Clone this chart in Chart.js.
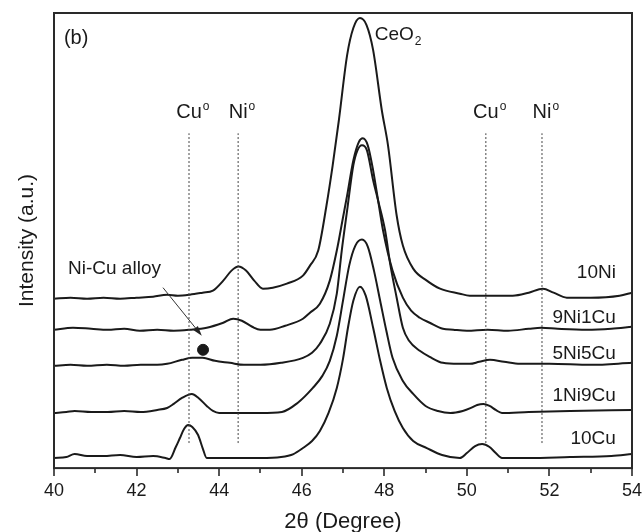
<!DOCTYPE html>
<html>
<head>
<meta charset="utf-8">
<script src="https://cdn.jsdelivr.net/npm/chart.js@4.4.1/dist/chart.umd.min.js"></script>
<style>
    html, body { margin: 0; padding: 0; background: #fff; }
    #wrap { width: 643px; height: 532px; }
</style>
</head>
<body>
<div id="wrap"><canvas id="xrd"></canvas></div>
<script>
// XRD patterns [2theta, intensity a.u.]
const ni10 = [
    [40.0, 169], [40.4, 170], [40.8, 169], [41.2, 170], [41.6, 169], [42.0, 170], [42.4, 171],
    [42.74, 173], [43.0, 172], [43.29, 173], [43.6, 175], [43.85, 177], [44.1, 187], [44.3, 197],
    [44.47, 201], [44.65, 197], [44.85, 187], [45.06, 179], [45.3, 180], [45.64, 184], [46.03, 192],
    [46.2, 202], [46.4, 217], [46.6, 262], [46.75, 302], [46.9, 347], [47.1, 412], [47.25, 439],
    [47.41, 449], [47.57, 442], [47.73, 417], [47.94, 357], [48.09, 322], [48.3, 252], [48.45, 222],
    [48.7, 199], [49.03, 187], [49.35, 179], [49.83, 174], [50.07, 172], [50.5, 172], [51.11, 172],
    [51.5, 175], [51.84, 179], [52.1, 175], [52.42, 170], [53.0, 170], [53.7, 172], [54.0, 175]
];
const ni9cu1 = [
    [40.0, 138], [40.46, 140], [40.9, 139], [41.3, 138], [41.7, 139], [42.08, 137], [42.5, 138],
    [42.9, 137], [43.29, 138], [43.7, 140], [44.1, 145], [44.34, 149], [44.55, 147], [44.8, 141],
    [45.0, 138], [45.23, 138], [45.6, 142], [46.03, 149], [46.2, 155], [46.44, 164], [46.68, 187],
    [46.85, 217], [47.0, 250], [47.1, 272], [47.25, 307], [47.38, 325], [47.48, 329], [47.6, 322],
    [47.73, 297], [47.85, 267], [47.97, 237], [48.2, 197], [48.45, 170], [48.65, 157], [48.86, 150],
    [49.1, 145], [49.42, 139], [49.67, 138], [50.0, 137], [50.5, 138], [51.0, 137], [51.5, 139],
    [51.8, 140], [52.2, 139], [52.9, 138], [53.5, 139], [54.0, 141]
];
const ni5cu5 = [
    [40.0, 102], [40.4, 103], [40.8, 102], [41.28, 103], [41.7, 102], [42.1, 103], [42.5, 103],
    [42.74, 104], [43.1, 108], [43.35, 110], [43.6, 110], [43.9, 107], [44.26, 105], [44.6, 103],
    [45.0, 103], [45.5, 105], [46.03, 110], [46.25, 115], [46.44, 124], [46.68, 144], [46.85, 174],
    [46.97, 217], [47.1, 257], [47.25, 302], [47.35, 317], [47.46, 322], [47.58, 317], [47.73, 287],
    [47.85, 267], [48.02, 237], [48.15, 202], [48.3, 170], [48.45, 140], [48.6, 127], [48.86, 117],
    [49.1, 111], [49.42, 105], [49.8, 104], [50.07, 104], [50.3, 106], [50.56, 108], [50.9, 106],
    [51.29, 104], [52.0, 104], [53.0, 103], [54.0, 105]
];
const ni1cu9 = [
    [40.0, 55], [40.3, 56], [40.5, 57], [40.9, 56], [41.3, 56], [41.7, 57], [42.1, 56], [42.5, 58],
    [42.74, 60], [42.9, 64], [43.1, 70], [43.34, 74], [43.5, 70], [43.7, 62], [43.85, 57], [44.0, 55],
    [44.5, 55], [45.0, 55], [45.52, 56], [45.9, 65], [46.27, 80], [46.5, 92], [46.68, 107],
    [46.85, 132], [47.0, 167], [47.15, 202], [47.3, 222], [47.46, 228], [47.6, 221], [47.75, 197],
    [47.9, 167], [48.05, 137], [48.2, 110], [48.45, 87], [48.7, 74], [49.0, 62], [49.3, 57],
    [49.6, 55], [49.9, 57], [50.1, 60], [50.25, 63], [50.4, 64], [50.55, 62], [50.7, 58],
    [50.85, 55], [51.5, 56], [52.5, 57], [54.0, 58]
];
const cu10 = [
    [40.0, 10], [40.3, 11], [40.5, 14], [40.8, 12], [41.2, 12], [41.6, 13], [42.0, 11], [42.4, 12],
    [42.7, 10], [42.8, 9], [42.95, 21], [43.05, 30], [43.15, 39], [43.25, 43], [43.35, 41],
    [43.49, 33], [43.6, 20], [43.7, 10], [44.0, 10], [44.5, 10], [45.0, 10], [45.5, 11], [45.8, 14],
    [46.03, 20], [46.25, 27], [46.44, 37], [46.65, 55], [46.85, 80], [47.0, 109], [47.12, 140],
    [47.25, 167], [47.41, 181], [47.55, 172], [47.73, 140], [47.9, 107], [48.06, 80], [48.25, 57],
    [48.45, 40], [48.7, 27], [49.03, 20], [49.4, 13], [49.83, 10], [50.0, 15], [50.2, 22],
    [50.37, 24], [50.55, 21], [50.7, 15], [50.85, 10], [51.5, 10], [52.5, 11], [53.5, 12], [54.0, 14]
];

const sampleNames = ['10Ni', '9Ni1Cu', '5Ni5Cu', '1Ni9Cu', '10Cu'];
const samplePatterns = [ni10, ni9cu1, ni5cu5, ni1cu9, cu10];
const sampleLabelY = [190, 145, 109, 67, 24];

// reference reflections
const phaseNames = ['Cu', 'Ni', 'Cu', 'Ni'];
const phasePositions = [43.27, 44.46, 50.46, 51.82];

// Ni-Cu alloy marker
const alloyPoint = [{ x: 43.61, y: 118 }];

const xTicks = [40, 42, 44, 46, 48, 50, 52, 54];

const FONT = "'Liberation Sans', Arial, sans-serif";
const INK = '#1a1a1a';

const datasets = [];

// dotted phase lines
phasePositions.forEach(function(pos) {
    datasets.push({
        data: [{ x: pos, y: 25 }, { x: pos, y: 334 }],
        borderColor: '#444',
        borderWidth: 1,
        borderDash: [2, 2],
        pointRadius: 0,
        tension: 0
    });
});

samplePatterns.forEach(function(pts, i) {
    datasets.push({
        label: sampleNames[i],
        data: pts.map(p => ({ x: p[0], y: p[1] })),
        borderColor: INK,
        borderWidth: 2,
        pointRadius: 0,
        cubicInterpolationMode: 'monotone'
    });
});

datasets.push({
    type: 'scatter',
    data: alloyPoint,
    backgroundColor: INK,
    borderColor: INK,
    pointRadius: 5.5
});

// texte, cadre et graduations
const decorations = {
    id: 'decorations',
    afterDraw(chart) {
        const ctx = chart.ctx;
        const x = chart.scales.x;
        const y = chart.scales.y;
        const area = chart.chartArea;

        ctx.save();

        // cadre
        ctx.strokeStyle = '#2a2a2a';
        ctx.lineWidth = 2;
        ctx.strokeRect(area.left, area.top, area.right - area.left, area.bottom - area.top);

        // graduations en bas
        ctx.lineWidth = 1.6;
        for (let v = 40; v <= 54; v++) {
            const px = Math.round(x.getPixelForValue(v));
            const len = xTicks.includes(v) ? 8 : 5;
            ctx.beginPath();
            ctx.moveTo(px, area.bottom);
            ctx.lineTo(px, area.bottom + len);
            ctx.stroke();
        }

        ctx.fillStyle = INK;
        ctx.textBaseline = 'alphabetic';

        // noms des phases avec exposant
        phasePositions.forEach(function(pos, i) {
            const cx = x.getPixelForValue(pos);
            const base = y.getPixelForValue(349);
            ctx.font = '20px ' + FONT;
            ctx.textAlign = 'center';
            const w = ctx.measureText(phaseNames[i]).width;
            ctx.fillText(phaseNames[i], cx, base);
            ctx.font = '12px ' + FONT;
            ctx.textAlign = 'left';
            ctx.fillText('o', cx + w / 2 + 1, base - 8);
        });

        // CeO2
        ctx.font = '19px ' + FONT;
        ctx.textAlign = 'left';
        const cx0 = x.getPixelForValue(47.77);
        const cy0 = y.getPixelForValue(427);
        ctx.fillText('CeO', cx0, cy0);
        const wc = ctx.measureText('CeO').width;
        ctx.font = '12px ' + FONT;
        ctx.fillText('2', cx0 + wc + 1, cy0 + 5);

        // (b)
        ctx.font = '20px ' + FONT;
        ctx.fillText('(b)', x.getPixelForValue(40.24), y.getPixelForValue(423));

        // Ni-Cu alloy
        ctx.font = '19px ' + FONT;
        ctx.fillText('Ni-Cu alloy', x.getPixelForValue(40.34), y.getPixelForValue(194));

        // fleche
        const ax0 = x.getPixelForValue(42.64), ay0 = y.getPixelForValue(180);
        const ax1 = x.getPixelForValue(43.58), ay1 = y.getPixelForValue(132);
        const ang = Math.atan2(ay1 - ay0, ax1 - ax0);
        ctx.strokeStyle = '#333';
        ctx.lineWidth = 1;
        ctx.beginPath();
        ctx.moveTo(ax0, ay0);
        ctx.lineTo(ax1 - 6 * Math.cos(ang), ay1 - 6 * Math.sin(ang));
        ctx.stroke();
        ctx.beginPath();
        ctx.moveTo(ax1, ay1);
        ctx.lineTo(ax1 - 10 * Math.cos(ang) + 3 * Math.sin(ang), ay1 - 10 * Math.sin(ang) - 3 * Math.cos(ang));
        ctx.lineTo(ax1 - 10 * Math.cos(ang) - 3 * Math.sin(ang), ay1 - 10 * Math.sin(ang) + 3 * Math.cos(ang));
        ctx.closePath();
        ctx.fillStyle = '#222';
        ctx.fill();

        // etiquettes des echantillons
        ctx.fillStyle = INK;
        ctx.font = '19px ' + FONT;
        ctx.textAlign = 'right';
        sampleNames.forEach(function(name, i) {
            ctx.fillText(name, x.getPixelForValue(53.61), y.getPixelForValue(sampleLabelY[i]));
        });

        ctx.restore();
    }
};

new Chart(document.getElementById('xrd'), {
    type: 'line',
    data: { datasets: datasets },
    options: {
        responsive: true,
        maintainAspectRatio: false,
        animation: false,
        devicePixelRatio: 1,
        layout: { padding: { top: 13, right: 11, left: 0, bottom: 0 } },
        plugins: {
            legend: { display: false },
            tooltip: { enabled: false }
        },
        scales: {
            x: {
                type: 'linear',
                min: 40,
                max: 54,
                // tick marks are drawn by the plugin; tickLength only spaces the labels
                grid: { display: false, drawTicks: true, tickLength: 12 },
                border: { display: false },
                ticks: {
                    stepSize: 1,
                    autoSkip: false,
                    maxRotation: 0,
                    padding: 0,
                    color: INK,
                    font: { family: FONT, size: 18 },
                    callback: v => (xTicks.includes(v) ? String(v) : '')
                },
                title: {
                    display: true,
                    text: '2θ (Degree)',
                    color: INK,
                    font: { family: FONT, size: 22, lineHeight: 0.9 },
                    padding: { top: 10.5, bottom: 0 }
                }
            },
            y: {
                type: 'linear',
                min: 0,
                max: 454,
                grid: { display: false, drawTicks: false },
                border: { display: false },
                ticks: { display: false },
                title: {
                    display: true,
                    text: 'Intensity (a.u.)',
                    color: INK,
                    font: { family: FONT, size: 21, lineHeight: 1.2 },
                    padding: { top: 14.4, bottom: 14.4 }
                }
            }
        }
    },
    plugins: [decorations]
});
</script>
</body>
</html>
